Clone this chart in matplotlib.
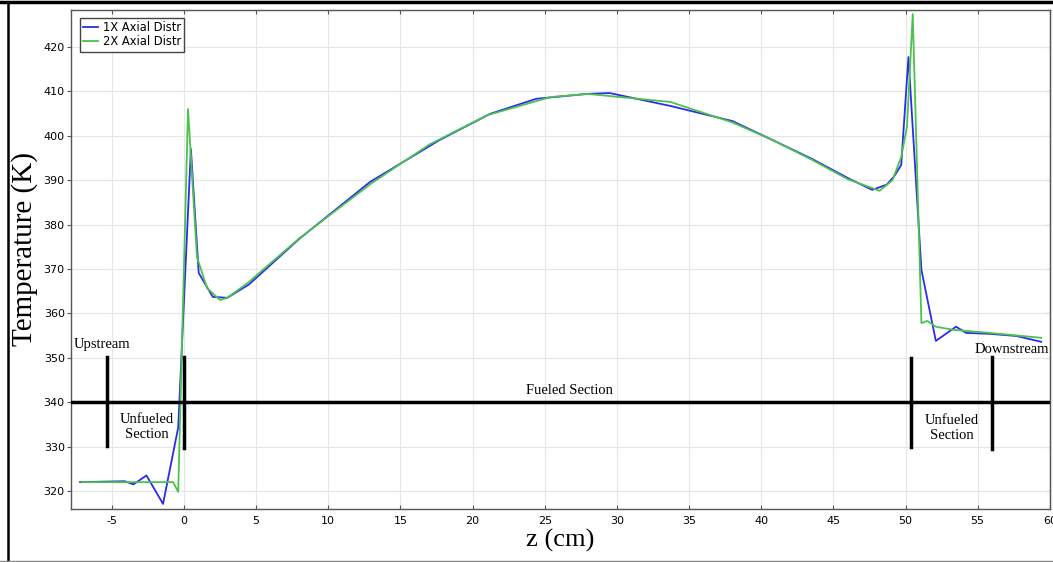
import matplotlib.pyplot as plt
from matplotlib.lines import Line2D

plt.rcParams['axes.unicode_minus'] = False

# 1X axial distribution (blue)
z_1x = [-7.2, -4.1, -3.5, -2.6, -1.45, -0.4, 0.48, 1.02, 2.0, 3.0, 4.5, 8.0, 12.9,
        17.7, 21.2, 24.4, 27.9, 29.5, 33.7, 38.0, 40.8, 43.5, 46.1, 47.7, 48.7,
        49.2, 49.7, 50.2, 51.1, 52.1, 53.5, 54.2, 55.8, 57.7, 59.4]
t_1x = [322.0, 322.2, 321.5, 323.5, 317.1, 334.3, 397.0, 369.1, 363.7, 363.5, 366.5,
        376.8, 389.6, 399.0, 404.9, 408.3, 409.4, 409.6, 406.7, 403.3, 399.0, 394.8,
        390.3, 387.8, 389.0, 390.8, 393.4, 417.7, 369.8, 353.8, 357.0, 355.6, 355.4,
        354.9, 353.6]

# 2X axial distribution (green)
z_2x = [-7.1, -0.75, -0.4, 0.28, 0.9, 1.6, 2.5, 3.0, 4.4, 8.0, 13.0, 17.0, 21.0,
        25.4, 28.0, 33.7, 38.0, 40.8, 43.5, 46.0, 48.2, 49.1, 49.7, 50.1, 50.5,
        51.1, 51.5, 52.1, 53.3, 55.8, 59.4]
t_2x = [322.0, 322.0, 319.8, 406.0, 372.7, 365.7, 363.0, 363.5, 366.8, 376.9, 389.3,
        398.0, 404.6, 408.7, 409.4, 407.6, 403.0, 399.0, 394.6, 390.2, 387.6, 390.0,
        395.2, 402.0, 427.4, 357.8, 358.3, 357.0, 356.3, 355.6, 354.5]

# section markers
divider_z = [-5.33, 0.0, 50.4, 56.0]
divider_lo = [330.1, 329.7, 330.0, 329.5]
divider_hi = [350.2, 350.2, 350.0, 350.2]

xticks = list(range(-5, 61, 5))
yticks = list(range(320, 421, 10))

fig = plt.figure(figsize=(10.53, 5.62), dpi=100)
ax = fig.add_axes([0.0674, 0.0943, 0.9296, 0.8887])

ax.plot(z_1x, t_1x, color='#2b2bf0', lw=1.3, label='1X Axial Distr')
ax.plot(z_2x, t_2x, color='#4cc24c', lw=1.3, label='2X Axial Distr')

ax.axhline(340, color='black', lw=2.5, zorder=3)
for z, lo, hi in zip(divider_z, divider_lo, divider_hi):
    ax.plot([z, z], [lo, hi], color='black', lw=2.5, zorder=3)

serif = 'Liberation Serif'
ax.text(-5.7, 352.9, 'Upstream', family=serif, fontsize=10.5, ha='center', va='center')
ax.text(-2.6, 334.5, 'Unfueled\nSection', family=serif, fontsize=10.5, ha='center', va='center')
ax.text(26.7, 342.7, 'Fueled Section', family=serif, fontsize=10.5, ha='center', va='center')
ax.text(53.2, 334.3, 'Unfueled\nSection', family=serif, fontsize=10.5, ha='center', va='center')
ax.text(57.4, 351.8, 'Downstream', family=serif, fontsize=10.5, ha='center', va='center')

ax.set_xlim(-7.83, 60)
ax.set_ylim(315.95, 428.4)
ax.set_xticks(xticks)
ax.set_yticks(yticks)
ax.grid(True, color='#e6e6e6', lw=0.8)
ax.set_axisbelow(True)

ax.tick_params(axis='x', direction='in', top=True, length=3, labelsize=8,
               color='#555555', pad=5)
ax.tick_params(axis='y', direction='out', length=3, labelsize=8, color='#555555', pad=1.5)
right = ax.secondary_yaxis('right')
right.set_yticks(yticks)
right.tick_params(direction='in', length=3, labelright=False, color='#555555')
right.spines['right'].set_color('#555555')
for s in ax.spines.values():
    s.set_color('#555555')
    s.set_linewidth(1.0)

ax.set_xlabel('z (cm)', family=serif, fontsize=19, labelpad=2)
ax.set_ylabel('Temperature (K)', family=serif, fontsize=21)
ax.yaxis.set_label_coords(-0.034, 0.52)

leg = ax.legend(loc='upper left', fontsize=8.3, handlelength=1.3, handletextpad=0.4,
                borderpad=0.3, labelspacing=0.1, fancybox=False, framealpha=1,
                bbox_to_anchor=(0.003, 0.995))
leg.get_frame().set_edgecolor('#444444')
leg.get_frame().set_linewidth(1.0)

# frame around the screenshot
fig.add_artist(Line2D([0, 1], [0.997, 0.997], transform=fig.transFigure, color='black', lw=2.5))
fig.add_artist(Line2D([0.008, 0.008], [0.003, 0.997], transform=fig.transFigure, color='black', lw=1.8))
fig.add_artist(Line2D([0, 1], [0.002, 0.002], transform=fig.transFigure, color='#888888', lw=1))

fig.savefig('out.png', dpi=100)
